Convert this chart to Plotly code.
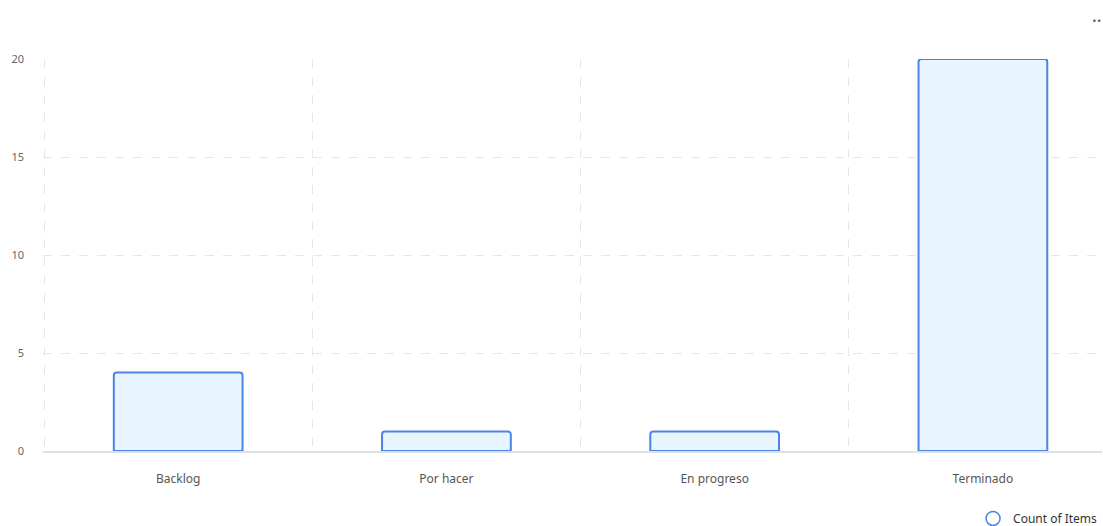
import plotly.graph_objects as go

categories = ["Backlog", "Por hacer", "En progreso", "Terminado"]
counts = [4, 1, 1, 20]
series_name = "Count of Items"
y_ticks = [0, 5, 10, 15, 20]

fill_color = "#e8f5fe"
line_color = "#4a85e3"

fig = go.Figure()
fig.add_trace(go.Bar(
    x=categories, y=counts, name=series_name, width=0.48,
    marker=dict(color=fill_color, line=dict(color=line_color, width=2), cornerradius=3),
    showlegend=False,
))
fig.add_trace(go.Scatter(
    x=[None], y=[None], mode="markers", name=series_name,
    marker=dict(symbol="circle-open", size=14, color=line_color, line=dict(width=1.5)),
))

fig.update_layout(
    width=1103, height=526,
    margin=dict(l=43, r=1, t=59, b=75, autoexpand=False),
    plot_bgcolor="white", paper_bgcolor="white",
    font=dict(family="Noto Sans, Open Sans, sans-serif", size=12, color="#555"),
    xaxis=dict(
        type="category", range=[-0.504, 3.444], tickson="boundaries",
        showgrid=True, gridcolor="#e6e6e6", griddash="dash", gridwidth=1,
        showline=True, linecolor="#dde0e6", linewidth=2,
        ticks="", ticklabelstandoff=16, tickfont=dict(size=12, color="#555"),
    ),
    yaxis=dict(
        range=[0, 20], tickvals=y_ticks,
        showgrid=True, gridcolor="#e6e6e6", griddash="dash", gridwidth=1,
        zeroline=False, showline=False, ticks="",
        tickfont=dict(size=11, color="#666"), ticklabelstandoff=18,
    ),
    legend=dict(
        orientation="h", x=1.001, xanchor="right", y=-0.135, yanchor="top",
        font=dict(size=12, color="#333"), itemwidth=30,
    ),
    annotations=[dict(
        text="··", x=0.995, y=1.10, xref="paper", yref="paper", showarrow=False,
        xanchor="center", yanchor="middle", font=dict(size=18, color="#555"),
    )],
)

fig.write_html("out.html")
